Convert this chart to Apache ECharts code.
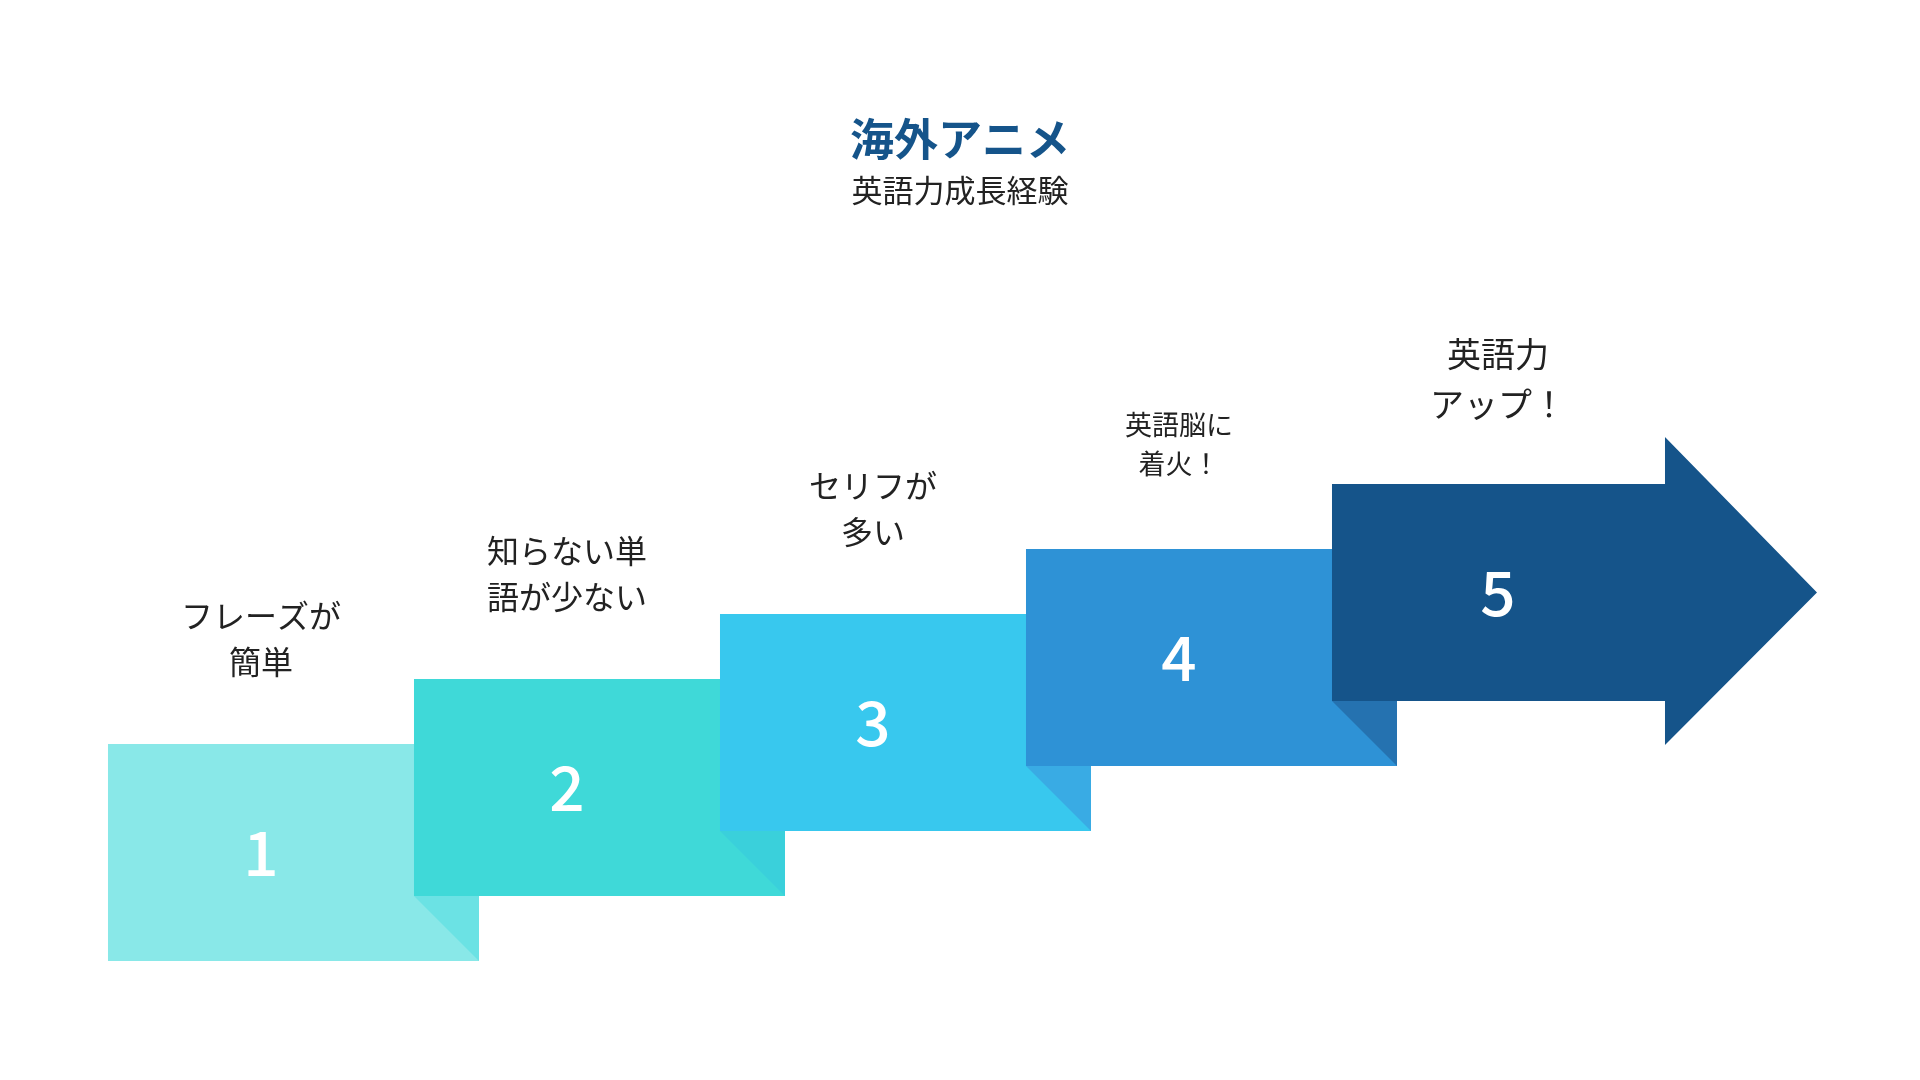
<!DOCTYPE html>
<html><head><meta charset="utf-8">
<script src="https://cdn.jsdelivr.net/npm/echarts@6/dist/echarts.min.js"></script>
<style>html,body{margin:0;padding:0;background:#fff}#c{width:1920px;height:1080px}</style>
</head><body><div id="c"></div>
<script>
const steps = ['1','2','3','4','5'];
const levels = [1,2,3,4,5];
const captions = ['フレーズが\n簡単','知らない単\n語が少ない','セリフが\n多い','英語脳に\n着火！','英語力\nアップ！'];
const captionSizes = [32,32,32,27,34];
const colors = ['#89E8E8','#3FD9D8','#38C8EE','#2E92D6','#15548A'];
const foldColors = ['#6BE2E4','#3AD0DB','#39ABE4','#2572B0','#15548A'];
const font = '"Noto Sans CJK JP","Noto Sans",sans-serif';

const chart = echarts.init(document.getElementById('c'));
chart.setOption({
  backgroundColor:'#fff',
  title:{text:'海外アニメ',subtext:'英語力成長経験',left:'center',top:112,itemGap:14,
    textStyle:{fontFamily:font,fontSize:44,fontWeight:'bold',color:'#15548A'},
    subtextStyle:{fontFamily:font,fontSize:31,color:'#222'}},
  grid:{left:0,right:0,top:0,bottom:0},
  xAxis:{type:'value',min:-0.3529,max:5.9216,show:false},
  yAxis:{type:'value',min:-4.169,max:12.446,show:false},
  series:[{
    type:'custom',
    data:levels.map((l,i)=>[i,l]),
    renderItem:function(params,api){
      const i=api.value(0), l=api.value(1);
      const p=api.coord([i,l]);
      const u=api.size([1,1]);
      const W=u[0], S=u[1], H=217;
      const x=p[0], y=p[1];
      const children=[];
      if(i<4){
        children.push({type:'rect',shape:{x:x,y:y,width:W+S,height:H},style:{fill:colors[i]}});
        children.push({type:'polygon',shape:{points:[[x+W,y+H-S],[x+W+S,y+H-S],[x+W+S,y+H]]},style:{fill:foldColors[i]}});
      } else {
        const rw=333, hx=x+rw, tip=x+485, cy=y+H/2;
        children.push({type:'polygon',shape:{points:[[x,y],[hx,y],[hx,y-47],[tip,cy],[hx,y+H+44],[hx,y+H],[x,y+H]]},style:{fill:colors[i]}});
      }
      const cx = x+W/2+(i===4?13:0);
      children.push({type:'text',style:{text:steps[i],x:cx,y:y+H/2,align:'center',verticalAlign:'middle',fontFamily:font,fontSize:62,fill:'#fff',fontWeight:500}});
      children.push({type:'text',style:{text:captions[i],x:cx,y:y-105,align:'center',verticalAlign:'middle',fontFamily:font,fontSize:captionSizes[i],lineHeight:captionSizes[i]*1.45,fill:'#222'}});
      return {type:'group',children:children};
    }
  }]
});
</script></body></html>
